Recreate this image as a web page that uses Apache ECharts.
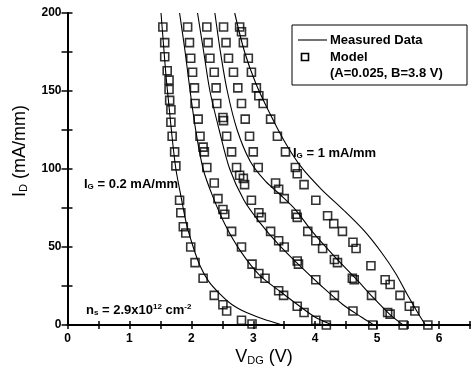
<!DOCTYPE html>
<html><head><meta charset="utf-8">
<script src="https://cdn.jsdelivr.net/npm/echarts/dist/echarts.min.js"></script>
<style>html,body{margin:0;padding:0;background:#fff}#c{width:473px;height:375px}</style>
</head><body><div id="c"></div>
<script>
// Measured data (solid lines), [V_DG (V), I_D (mA/mm)]
const measured1 = [[1.51,200],[1.55,180],[1.59,160],[1.64,140],[1.69,120],[1.75,100],[1.82,85],[1.92,65],[2.03,50],[2.14,38],[2.28,28],[2.46,20],[2.66,13],[2.89,8],[3.15,4],[3.47,0]];
const measured2 = [[1.81,200],[1.90,175],[1.98,150],[2.07,125],[2.19,100],[2.35,82],[2.55,64],[2.80,47],[3.10,32],[3.45,21],[3.75,12],[4.00,5],[4.28,0]];
const measured3 = [[2.10,200],[2.20,175],[2.30,150],[2.45,125],[2.62,100],[2.85,80],[3.10,66],[3.40,52],[3.75,38],[4.10,25],[4.45,13],[4.75,5],[4.95,0]];
const measured4 = [[2.38,200],[2.47,175],[2.58,150],[2.74,125],[2.95,105],[3.20,92],[3.45,83],[3.68,74],[3.95,60],[4.31,44],[4.65,30],[4.95,17],[5.20,7],[5.42,0]];
const measured5 = [[2.70,200],[2.86,175],[3.04,155],[3.25,137],[3.50,118],[3.78,101],[4.10,87],[4.45,74],[4.80,60],[5.08,46],[5.30,33],[5.48,20],[5.64,9],[5.78,0]];

// Model (open squares)
const model1 = [[1.54,191],[1.57,181],[1.57,172],[1.61,163],[1.64,157],[1.64,151],[1.65,144],[1.67,138],[1.67,130],[1.69,121],[1.73,111],[1.75,102],[1.81,80],[1.83,72],[1.87,63],[1.91,59],[1.99,50],[2.06,40],[2.19,30],[2.37,19],[2.51,13],[2.57,9],[2.81,3],[2.98,0.6]];
const model2 = [[1.94,191],[1.97,181],[1.99,171],[2.02,162],[2.05,152],[2.06,142],[2.11,132],[2.14,121],[2.19,114],[2.21,111],[2.25,101],[2.37,91],[2.43,81],[2.51,74],[2.54,71],[2.65,60],[2.81,50],[2.98,39],[3.09,33],[3.19,30],[3.41,22],[3.49,19],[3.71,12],[3.82,8],[4.01,3],[4.18,0]];
const model3 = [[2.25,191],[2.27,181],[2.30,171],[2.37,162],[2.40,152],[2.41,142],[2.51,133],[2.52,131],[2.57,121],[2.65,111],[2.73,101],[2.78,96],[2.84,94],[2.86,90],[2.97,80],[3.09,72],[3.13,69],[3.28,60],[3.41,54],[3.50,50],[3.71,41],[3.73,39],[4.01,29],[4.31,19],[4.61,9],[4.93,0]];
const model4 = [[2.52,191],[2.56,181],[2.60,171],[2.68,162],[2.75,152],[2.81,142],[2.87,132],[2.94,121],[3.00,111],[3.08,101],[3.36,91],[3.41,87],[3.50,81],[3.69,71],[3.71,69],[3.88,60],[4.01,54],[4.12,49],[4.31,42],[4.36,40],[4.60,30],[4.63,29],[4.91,19],[5.17,8],[5.21,7],[5.42,0]];
const model5 = [[2.78,191],[2.81,188],[2.84,181],[2.92,171],[2.97,162],[3.05,152],[3.09,147],[3.16,142],[3.28,132],[3.39,121],[3.52,111],[3.68,101],[3.71,97],[3.82,90],[4.01,80],[4.20,70],[4.30,65],[4.44,60],[4.61,53],[4.66,49],[4.90,38],[5.13,29],[5.21,26],[5.37,19],[5.52,12],[5.61,9],[5.82,0]];

const measuredSets = [measured1, measured2, measured3, measured4, measured5];
const modelSets = [model1, model2, model3, model4, model5];

const FONT = 'Liberation Sans';
const chart = echarts.init(document.getElementById('c'));

const series = [];
measuredSets.forEach((d, i) => series.push({
  name: 'Measured Data ' + (i + 1), type: 'line', data: d, xAxisIndex: 0, yAxisIndex: 0,
  showSymbol: false, symbol: 'none', smooth: 0.3, z: 2,
  lineStyle: { color: '#000', width: 1.1 }
}));
modelSets.forEach((d, i) => series.push({
  name: 'Model ' + (i + 1), type: 'scatter', data: d, xAxisIndex: 0, yAxisIndex: 0,
  symbol: 'rect', symbolSize: 8, z: 3,
  itemStyle: { color: 'rgba(0,0,0,0)', borderColor: '#000', borderWidth: 1.6 }
}));

const tickLbl = { color: '#000', fontFamily: FONT, fontWeight: 'bold', fontSize: 12 };
const sub = { fontFamily: FONT, fontWeight: 'bold', fontSize: 8, lineHeight: 6, verticalAlign: 'bottom', color: '#000' };
const sup = { fontFamily: FONT, fontWeight: 'bold', fontSize: 8, lineHeight: 6, verticalAlign: 'top', color: '#000' };
const titleSub = { fontFamily: FONT, fontSize: 11, lineHeight: 8, verticalAlign: 'bottom', color: '#000' };

chart.setOption({
  animation: false,
  backgroundColor: '#fff',
  grid: { left: 67.5, top: 13, bottom: 50, right: -5.3, containLabel: false },
  xAxis: [{
    type: 'value', min: 0, max: 6.5, interval: 0.5, position: 'bottom',
    axisLine: { lineStyle: { color: '#000', width: 2 } },
    axisTick: { inside: true, length: 4, lineStyle: { color: '#000', width: 1.5 } },
    splitLine: { show: false },
    axisLabel: Object.assign({ margin: 8, formatter: v => (Math.abs(v - Math.round(v)) < 1e-9 && v <= 6 ? String(Math.round(v)) : '') }, tickLbl)
  }, {
    type: 'value', min: 0, max: 6.5, interval: 0.5, position: 'top',
    axisLine: { show: true, lineStyle: { color: '#000', width: 1.5 } },
    axisTick: { inside: true, length: 4, lineStyle: { color: '#000', width: 1.5 } },
    splitLine: { show: false }, axisLabel: { show: false }
  }],
  yAxis: [{
    type: 'value', min: 0, max: 200, interval: 25, position: 'left',
    axisLine: { lineStyle: { color: '#000', width: 2 } },
    axisTick: { inside: true, length: 5, lineStyle: { color: '#000', width: 1.5 } },
    splitLine: { show: false },
    axisLabel: Object.assign({ margin: 6, formatter: v => (v % 50 === 0 ? String(v) : '') }, tickLbl)
  }, {
    type: 'value', min: 0, max: 200, interval: 25, position: 'right',
    axisLine: { show: true, lineStyle: { color: '#000', width: 1.5 } },
    axisTick: { inside: true, length: 6, lineStyle: { color: '#000', width: 1.5 } },
    splitLine: { show: false }, axisLabel: { show: false }
  }],
  series: series,
  graphic: [
    { type: 'text', x: 20, y: 151, rotation: Math.PI / 2, z: 10, style: { text: 'I{s|D} (mA/mm)', font: '18px "Liberation Sans"', fill: '#000', align: 'center', verticalAlign: 'middle', lineHeight: 18, rich: { s: titleSub } } },
    { type: 'text', x: 264, y: 357, z: 10, style: { text: 'V{s|DG} (V)', font: '18px "Liberation Sans"', fill: '#000', align: 'center', verticalAlign: 'middle', lineHeight: 18, rich: { s: titleSub } } },
    { type: 'rect', shape: { x: 292, y: 25, width: 175, height: 60 }, style: { fill: 'rgba(0,0,0,0)', stroke: '#000', lineWidth: 1 }, z: 10 },
    { type: 'line', shape: { x1: 298, y1: 40, x2: 327, y2: 40 }, style: { stroke: '#000', lineWidth: 1.1 }, z: 10 },
    { type: 'rect', shape: { x: 301.5, y: 53.5, width: 7, height: 7 }, style: { fill: 'rgba(0,0,0,0)', stroke: '#000', lineWidth: 1.6 }, z: 10 },
    { type: 'text', x: 330, y: 40, z: 10, style: { text: 'Measured Data', font: 'bold 13px "Liberation Sans"', fill: '#000', verticalAlign: 'middle' } },
    { type: 'text', x: 330, y: 57, z: 10, style: { text: 'Model', font: 'bold 13px "Liberation Sans"', fill: '#000', verticalAlign: 'middle' } },
    { type: 'text', x: 330, y: 73, z: 10, style: { text: '(A=0.025, B=3.8 V)', font: 'bold 13px "Liberation Sans"', fill: '#000', verticalAlign: 'middle' } },
    { type: 'text', x: 84, y: 184, z: 10, style: { text: 'I{s|G} = 0.2 mA/mm', font: 'bold 13px "Liberation Sans"', fill: '#000', verticalAlign: 'middle', lineHeight: 14, rich: { s: sub } } },
    { type: 'text', x: 293, y: 153, z: 10, style: { text: 'I{s|G} = 1 mA/mm', font: 'bold 13px "Liberation Sans"', fill: '#000', verticalAlign: 'middle', lineHeight: 14, rich: { s: sub } } },
    { type: 'text', x: 86, y: 310, z: 10, style: { text: 'n{s|s} = 2.9x10{p|12} cm{p|-2}', font: 'bold 13px "Liberation Sans"', fill: '#000', verticalAlign: 'middle', lineHeight: 14, rich: { s: sub, p: sup } } }
  ]
});
</script></body></html>
